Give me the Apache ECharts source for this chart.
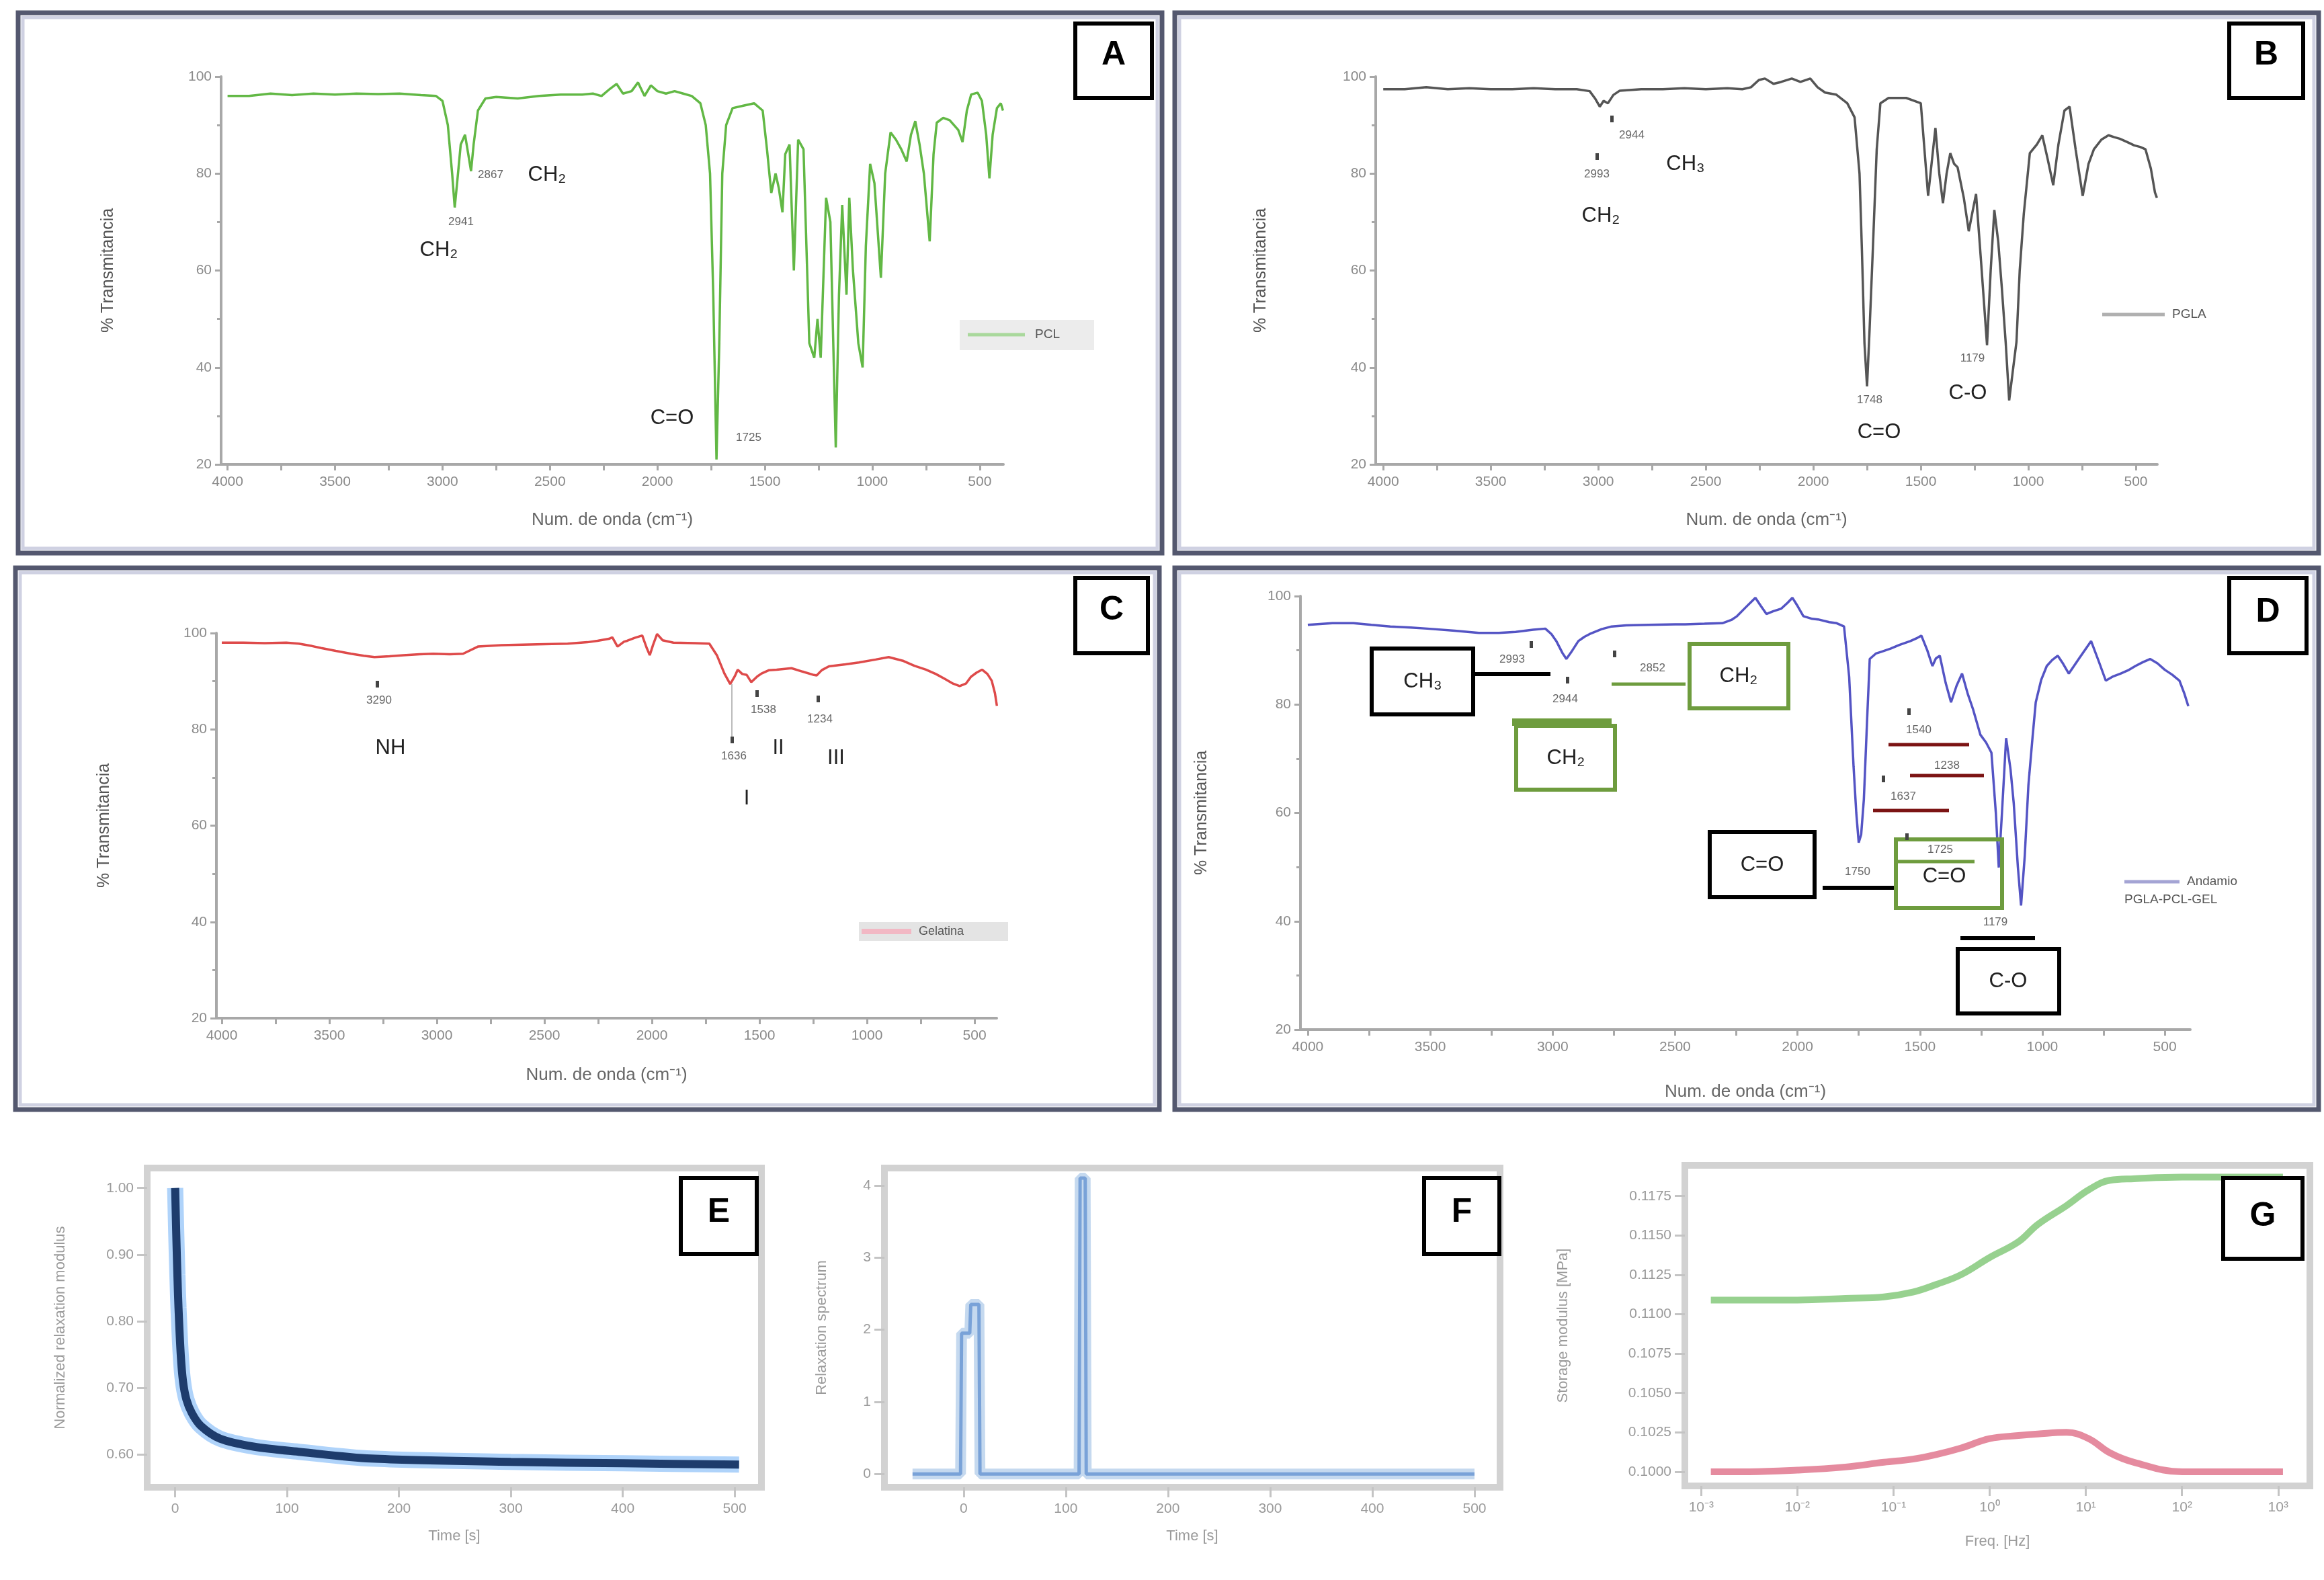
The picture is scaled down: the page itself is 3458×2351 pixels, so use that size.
<!DOCTYPE html>
<html>
<head>
<meta charset="utf-8">
<title>FTIR y reologia</title>
<script src="https://cdn.jsdelivr.net/npm/echarts@6.0.0/dist/echarts.min.js"></script>
<style>
html, body { margin: 0; padding: 0; background: #fff; }
#main { width: 3458px; height: 2351px; }
</style>
</head>
<body>
<div id="main"></div>
<script>
// ---- FTIR: PCL (A)
var pclWave = [4000,3900,3800,3700,3600,3500,3400,3300,3200,3100,3030,3000,2975,2955,2943,2932,2915,2895,2880,2867,2855,2835,2800,2750,2650,2550,2450,2350,2300,2260,2220,2190,2160,2120,2090,2060,2030,2000,1960,1920,1880,1840,1800,1775,1755,1740,1725,1712,1698,1680,1650,1600,1550,1510,1490,1470,1450,1435,1418,1405,1385,1365,1345,1320,1293,1270,1255,1240,1215,1195,1170,1155,1140,1120,1107,1090,1065,1045,1030,1010,990,960,940,915,890,865,840,820,800,780,760,733,715,700,670,640,600,580,560,540,510,490,470,455,440,420,402,392];
var pclTrans = [96.0,96.0,96.5,96.2,96.5,96.3,96.5,96.4,96.5,96.2,96.0,95.0,90.0,80.0,73.0,78.0,86.0,88.0,84.0,80.5,86.0,93.0,95.5,95.8,95.5,96.0,96.3,96.3,96.5,96.0,97.5,98.5,96.5,97.0,98.8,96.0,98.2,97.0,96.5,97.0,96.5,96.0,94.5,90.0,80.0,55.0,21.0,45.0,80.0,90.0,93.5,94.0,94.5,93.0,85.0,76.0,80.0,77.0,72.0,84.0,86.0,60.0,87.0,85.0,45.0,42.0,50.0,42.0,75.0,70.0,23.5,55.0,73.5,55.0,75.0,60.0,45.0,40.0,65.0,82.0,78.0,58.5,80.0,88.5,87.0,85.0,82.5,88.0,90.8,86.0,80.0,66.0,84.0,90.5,91.5,91.0,89.0,86.5,93.0,96.3,96.7,95.0,88.0,79.0,88.0,93.5,94.5,93.0];

// ---- FTIR: PGLA (B)
var pglaWave = [4000,3900,3800,3700,3600,3500,3400,3300,3200,3100,3040,3015,2993,2975,2955,2930,2900,2800,2700,2600,2500,2400,2330,2290,2253,2225,2185,2150,2100,2060,2014,1980,1945,1894,1842,1808,1785,1774,1762,1750,1738,1723,1705,1688,1650,1620,1568,1530,1500,1466,1450,1432,1414,1397,1380,1363,1345,1329,1300,1277,1260,1243,1220,1192,1175,1158,1140,1123,1105,1089,1070,1055,1040,1021,993,960,935,910,884,860,832,808,780,747,720,695,660,627,600,575,540,507,480,455,430,411,402];
var pglaTrans = [97.4,97.4,97.8,97.4,97.6,97.4,97.4,97.6,97.4,97.4,97.0,95.5,93.8,95.0,94.5,96.2,97.1,97.4,97.4,97.6,97.4,97.6,97.4,97.8,99.3,99.6,98.5,98.9,99.6,98.9,99.6,97.8,96.7,96.3,94.5,91.6,80.0,64.4,45.0,36.1,48.0,64.4,85.0,94.5,95.6,95.6,95.6,95.0,94.5,75.4,82.0,89.4,80.0,73.9,80.0,84.2,82.0,81.3,75.0,68.1,72.0,75.8,62.0,44.6,60.0,72.5,66.0,56.3,45.0,33.2,40.0,45.3,60.0,71.7,84.2,86.0,87.9,83.0,77.6,86.0,93.0,93.8,85.0,75.4,82.0,85.0,87.0,87.9,87.5,87.2,86.5,85.8,85.5,85.0,81.0,76.1,75.0];

// ---- FTIR: Gelatina (C)
var gelWave = [4000,3900,3800,3700,3642,3580,3538,3470,3399,3340,3290,3220,3156,3080,3017,2940,2878,2809,2700,2601,2500,2392,2300,2253,2200,2184,2160,2130,2115,2080,2045,2025,2010,1995,1976,1950,1900,1800,1733,1698,1663,1636,1615,1601,1580,1559,1538,1510,1490,1455,1420,1351,1300,1247,1234,1210,1177,1100,1038,960,899,830,780,726,680,639,600,569,540,517,490,465,440,420,405,396];
var gelTrans = [98.0,98.0,97.9,98.0,97.8,97.3,96.9,96.3,95.7,95.3,95.0,95.2,95.4,95.6,95.7,95.6,95.7,97.2,97.5,97.6,97.7,97.8,98.1,98.4,98.8,99.1,97.2,98.2,98.4,99.0,99.5,97.0,95.4,97.5,99.8,98.5,98.0,97.9,97.8,95.4,91.6,89.4,91.0,92.4,91.5,91.3,89.8,91.0,91.6,92.3,92.4,92.7,92.0,91.3,91.2,92.3,93.1,93.5,93.9,94.5,95.0,94.2,93.2,92.4,91.5,90.5,89.5,89.0,89.5,90.9,91.8,92.4,91.5,90.1,87.5,84.9];

// ---- FTIR: Andamio PGLA-PCL-GEL (D)
var scafWave = [4000,3900,3813,3740,3663,3580,3512,3400,3301,3220,3151,3080,3030,3005,2985,2960,2944,2925,2895,2870,2849,2800,2759,2700,2608,2500,2458,2380,2307,2270,2247,2210,2172,2150,2127,2100,2066,2040,2021,2000,1976,1940,1916,1870,1840,1810,1789,1771,1760,1750,1740,1729,1715,1705,1680,1660,1620,1584,1539,1510,1494,1470,1449,1435,1419,1395,1373,1350,1328,1305,1283,1253,1230,1208,1190,1178,1165,1148,1130,1117,1100,1087,1072,1057,1040,1027,1005,982,960,937,915,892,850,801,770,741,710,681,650,620,590,560,530,500,470,440,420,404];
var scafTrans = [94.7,95.0,95.0,94.7,94.4,94.2,94.0,93.6,93.2,93.2,93.4,93.8,94.0,93.0,91.7,89.5,88.4,89.6,91.7,92.5,93.0,93.9,94.4,94.6,94.7,94.8,94.8,94.9,95.0,95.6,96.3,98.0,99.7,98.2,96.7,97.2,97.7,98.8,99.7,98.2,96.3,95.8,95.7,95.2,95.0,94.4,85.1,68.5,60.0,54.5,56.0,62.5,78.0,88.4,89.4,89.7,90.3,91.0,91.7,92.3,92.7,90.0,87.1,88.5,89.0,84.0,80.4,83.5,85.7,82.0,79.1,74.4,73.0,71.1,60.0,49.9,60.0,73.8,68.0,61.8,50.0,42.9,52.0,65.1,74.0,80.4,84.5,87.1,88.2,89.0,87.5,85.7,88.5,91.7,88.0,84.4,85.2,85.7,86.3,87.1,87.8,88.4,87.6,86.4,85.5,84.4,82.0,79.7];

// ---- E: relajacion normalizada
var relaxTime = [0,1,2,3,5,7,10,15,23,40,70,112,175,300,400,504];
var relaxModulus = [1.0,0.93,0.87,0.82,0.75,0.71,0.683,0.662,0.643,0.624,0.612,0.604,0.594,0.589,0.587,0.585];

// ---- F: espectro
var specTime = [-50,-3,-2,6,7,15,16,113,114,119,120,500];
var specValue = [0,0,1.95,1.95,2.35,2.35,0,0,4.1,4.1,0,0];

// ---- G: modulo vs frecuencia (exponente de 10)
var freqExp = [-2.9,-2.5,-2.0,-1.5,-1.1,-0.8,-0.55,-0.3,0.0,0.3,0.5,0.8,1.03,1.25,1.5,2.0,2.5,3.05];
var modGreen = [0.1109,0.1109,0.1109,0.1110,0.1111,0.1114,0.1119,0.1125,0.1136,0.1146,0.1157,0.1169,0.1179,0.1185,0.1186,0.1187,0.1187,0.1187];
var modRed = [0.1000,0.1000,0.1001,0.1003,0.1006,0.1008,0.1011,0.1015,0.1021,0.1023,0.1024,0.1025,0.1021,0.1012,0.1006,0.1000,0.1000,0.1000];

// ---- ticks
var irLabelValues = [500,1000,1500,2000,2500,3000,3500,4000];
var irTickValues = [500,750,1000,1250,1500,1750,2000,2250,2500,2750,3000,3250,3500,3750,4000];
var timeTicks = [0,100,200,300,400,500];
var relaxTicks = [0.6,0.7,0.8,0.9,1.0];
var specTicks = [0,1,2,3,4];
var freqTicks = [-3,-2,-1,0,1,2,3];
var modTicks = [0.1000,0.1025,0.1050,0.1075,0.1100,0.1125,0.1150,0.1175];

function zip(a, b) {
	var out = [];
	for (var i = 0; i < a.length; i++) { out.push([a[i], b[i]]); }
	return out;
}
var SUP = {'-':'⁻','0':'⁰','1':'¹','2':'²','3':'³'};
function pow10(v) {
	var s = String(v), r = '';
	for (var i = 0; i < s.length; i++) { r += SUP[s[i]] || s[i]; }
	return '10' + r;
}
function plain(v) { return String(v); }

var FONT = '"Liberation Sans Narrow", "Liberation Sans", Arial, sans-serif';
var AX = '#a8a8a8';

// ---- grids
var grids = [
	{left: 329, top: 114, width: 1164, height: 577},   // A
	{left: 2047, top: 114, width: 1163, height: 577},  // B
	{left: 322, top: 942, width: 1161, height: 573},   // C
	{left: 1935, top: 887, width: 1324, height: 645},  // D
	{left: 219, top: 1738, width: 914, height: 475, show: true, borderColor: '#d2d2d2', borderWidth: 10},   // E
	{left: 1316, top: 1738, width: 916, height: 475, show: true, borderColor: '#d2d2d2', borderWidth: 10},  // F
	{left: 2507, top: 1734, width: 930, height: 477, show: true, borderColor: '#d2d2d2', borderWidth: 10}   // G
];

function irX(gi, min, max, gap) {
	return {
		gridIndex: gi, type: 'value', inverse: true, min: min, max: max,
		name: 'Num. de onda (cm⁻¹)', nameLocation: 'middle', nameGap: gap,
		nameTextStyle: {fontSize: 26, color: '#666', fontFamily: FONT},
		axisLine: {show: true, onZero: false, lineStyle: {color: AX, width: 4}},
		axisTick: {show: true, customValues: irTickValues, length: 9, lineStyle: {color: AX, width: 3}},
		axisLabel: {customValues: irLabelValues, fontSize: 21, color: '#8a8a8a', margin: 16,
			fontFamily: FONT, formatter: plain},
		splitLine: {show: false}
	};
}
function irY(gi, gap) {
	return {
		gridIndex: gi, type: 'value', min: 20, max: 100, interval: 20,
		name: '% Transmitancia', nameLocation: 'middle', nameGap: gap,
		nameTextStyle: {fontSize: 25, color: '#555', fontFamily: FONT},
		axisLine: {show: true, onZero: false, lineStyle: {color: AX, width: 4}},
		axisTick: {show: true, length: 9, lineStyle: {color: AX, width: 3}},
		minorTick: {show: true, splitNumber: 2, length: 6, lineStyle: {color: AX, width: 3}},
		axisLabel: {fontSize: 21, color: '#8a8a8a', margin: 14, fontFamily: FONT},
		splitLine: {show: false}
	};
}
function plainAxis(gi, dim, min, max, ticks, fmt, name, gap) {
	return {
		gridIndex: gi, type: 'value', min: min, max: max,
		position: dim === 'x' ? 'bottom' : 'left',
		name: name, nameLocation: 'middle', nameGap: gap,
		nameTextStyle: {fontSize: 22, color: '#9a9a9a', fontFamily: FONT},
		axisLine: {show: false, onZero: false},
		axisTick: {show: true, customValues: ticks, length: 15, lineStyle: {color: '#c4c4c4', width: 3}},
		axisLabel: {customValues: ticks, fontSize: 21, color: '#9a9a9a', margin: dim === 'x' ? 22 : 20,
			fontFamily: FONT, formatter: fmt},
		splitLine: {show: false}
	};
}

var xAxes = [
	irX(0, 390, 4030, 70),
	irX(1, 400, 4035, 70),
	irX(2, 397, 4025, 72),
	irX(3, 396, 4030, 80),
	plainAxis(4, 'x', -25, 524, timeTicks, plain, 'Time [s]', 62),
	plainAxis(5, 'x', -77.5, 525, timeTicks, plain, 'Time [s]', 62),
	plainAxis(6, 'x', -3.17, 3.33, freqTicks, function (v) { return pow10(v); }, 'Freq. [Hz]', 72)
];
var yAxes = [
	irY(0, 155),
	irY(1, 158),
	irY(2, 154),
	irY(3, 134),
	plainAxis(4, 'y', 0.551, 1.030, relaxTicks, function (v) { return v.toFixed(2); }, 'Normalized relaxation modulus', 118),
	plainAxis(5, 'y', -0.185, 4.24, specTicks, plain, 'Relaxation spectrum', 82),
	plainAxis(6, 'y', 0.0991, 0.11945, modTicks, function (v) { return v.toFixed(4); }, 'Storage modulus [MPa]', 170)
];

function ln(gi, data, color, width, smooth, z) {
	return {
		type: 'line', xAxisIndex: gi, yAxisIndex: gi, data: data, showSymbol: false,
		smooth: smooth || false, lineStyle: {color: color, width: width}, z: z || 2, silent: true
	};
}

var series = [
	ln(0, zip(pclWave, pclTrans), '#62b845', 3.5),
	ln(1, zip(pglaWave, pglaTrans), '#555555', 3.5),
	ln(2, zip(gelWave, gelTrans), '#de4a4a', 3.5),
	ln(3, zip(scafWave, scafTrans), '#5454c4', 3.5),
	ln(4, zip(relaxTime, relaxModulus), 'rgba(110,175,245,0.55)', 24, 0.3, 2),
	ln(4, zip(relaxTime, relaxModulus), '#1e3c6c', 12, 0.3, 3),
	ln(5, zip(specTime, specValue), 'rgba(150,185,225,0.55)', 16, false, 2),
	ln(5, zip(specTime, specValue), 'rgba(70,125,200,0.6)', 5, false, 3),
	ln(6, zip(freqExp, modGreen), 'rgba(125,198,115,0.8)', 10, 0.4),
	ln(6, zip(freqExp, modRed), 'rgba(222,110,135,0.8)', 10, 0.4)
];

// ---- graphic helpers (frames, panel letters, annotations)
var g = [];
function rectG(x, y, w, h, stroke, lw, fill, z) {
	g.push({type: 'rect', shape: {x: x, y: y, width: w, height: h}, z: z || 10,
		style: {fill: fill || 'none', stroke: stroke, lineWidth: lw}, silent: true});
}
function lineG(x1, y1, x2, y2, color, w) {
	g.push({type: 'line', shape: {x1: x1, y1: y1, x2: x2, y2: y2}, z: 10,
		style: {stroke: color, lineWidth: w}, silent: true});
}
function textG(x, y, s, size, color, weight, align) {
	g.push({type: 'text', x: x, y: y, z: 12, silent: true,
		style: {text: s, fontSize: size, fill: color, fontWeight: weight || 'normal',
			align: align || 'center', verticalAlign: 'middle', fontFamily: FONT}});
}
function dotG(x, y) { rectG(x - 2, y - 5, 5, 10, 'none', 0, '#444', 11); }
function letterBox(x, y, w, h, s, ty) {
	rectG(x, y, w, h, '#000', 6, '#fff', 9);
	textG(x + w / 2, ty, s, 50, '#000', 'bold');
}

// panel frames A-D
var frames = [[27, 19, 1702, 804], [1748, 19, 1702, 804], [23, 845, 1702, 806], [1748, 845, 1702, 806]];
frames.forEach(function (f) {
	rectG(f[0], f[1], f[2], f[3], '#54586f', 7, 'none', 8);
	rectG(f[0] + 7, f[1] + 7, f[2] - 14, f[3] - 14, '#cfd1e2', 5, 'none', 8);
});

letterBox(1600, 35, 114, 111, 'A', 82);
letterBox(3317, 35, 110, 111, 'B', 82);
letterBox(1600, 860, 108, 112, 'C', 908);
letterBox(3317, 860, 115, 112, 'D', 911);
letterBox(1013, 1753, 113, 113, 'E', 1804);
letterBox(2119, 1753, 112, 113, 'F', 1804);
letterBox(3308, 1753, 118, 120, 'G', 1810);

var SMALL = 17, BIG = 31, NUM = '#666', LAB = '#222';

// A: PCL
textG(730, 260, '2867', SMALL, NUM);
textG(814, 260, 'CH₂', BIG, LAB);
textG(686, 330, '2941', SMALL, NUM);
textG(653, 372, 'CH₂', BIG, LAB);
textG(1000, 622, 'C=O', BIG, LAB);
textG(1114, 651, '1725', SMALL, NUM);
rectG(1428, 476, 200, 45, 'none', 0, '#ececec', 9);
lineG(1440, 498, 1525, 498, '#a9d89c', 5);
textG(1540, 498, 'PCL', 19, '#555', 'normal', 'left');

// B: PGLA
dotG(2398, 177);
textG(2428, 201, '2944', SMALL, NUM);
dotG(2376, 233);
textG(2376, 259, '2993', SMALL, NUM);
textG(2508, 244, 'CH₃', BIG, LAB);
textG(2382, 321, 'CH₂', BIG, LAB);
textG(2782, 595, '1748', SMALL, NUM);
textG(2796, 643, 'C=O', BIG, LAB);
textG(2935, 533, '1179', SMALL, NUM);
textG(2928, 585, 'C-O', BIG, LAB);
lineG(3128, 468, 3221, 468, '#b0b0b0', 5);
textG(3232, 468, 'PGLA', 19, '#555', 'normal', 'left');

// C: Gelatina
dotG(561, 1018);
textG(564, 1042, '3290', SMALL, NUM);
textG(581, 1113, 'NH', BIG, LAB);
lineG(1089, 1018, 1089, 1096, '#bbb', 2);
dotG(1089, 1101);
textG(1092, 1125, '1636', SMALL, NUM);
dotG(1126, 1032);
textG(1136, 1056, '1538', SMALL, NUM);
dotG(1217, 1040);
textG(1220, 1070, '1234', SMALL, NUM);
textG(1111, 1188, 'I', BIG, LAB);
textG(1158, 1113, 'II', BIG, LAB);
textG(1244, 1128, 'III', BIG, LAB);
rectG(1278, 1372, 222, 28, 'none', 0, '#e4e4e4', 9);
lineG(1282, 1386, 1356, 1386, '#f2b8c4', 8);
textG(1367, 1386, 'Gelatina', 18, '#555', 'normal', 'left');

// D: Andamio
var GREEN = '#6e9c3e', RED = '#7c1414';
rectG(2041, 965, 151, 98, '#000', 6, '#fff');
textG(2117, 1014, 'CH₃', BIG, LAB);
lineG(2195, 1003, 2307, 1003, '#000', 6);
dotG(2278, 959);
textG(2250, 981, '2993', SMALL, NUM);
dotG(2332, 1012);
textG(2329, 1040, '2944', SMALL, NUM);
dotG(2402, 973);
textG(2459, 994, '2852', SMALL, NUM);
lineG(2398, 1018, 2508, 1018, GREEN, 5);
rectG(2514, 958, 147, 96, GREEN, 6, '#fff');
textG(2587, 1006, 'CH₂', BIG, LAB);
rectG(2250, 1069, 148, 11, 'none', 0, GREEN);
rectG(2256, 1080, 147, 95, GREEN, 6, '#fff');
textG(2330, 1128, 'CH₂', BIG, LAB);
rectG(2544, 1238, 156, 97, '#000', 6, '#fff');
textG(2622, 1287, 'C=O', BIG, LAB);
lineG(2712, 1321, 2823, 1321, '#000', 6);
textG(2764, 1297, '1750', SMALL, NUM);
rectG(2821, 1249, 158, 102, GREEN, 6, 'none');
lineG(2821, 1282, 2938, 1282, GREEN, 5);
dotG(2837, 1245);
textG(2887, 1264, '1725', SMALL, NUM);
textG(2893, 1304, 'C=O', BIG, LAB);
lineG(2810, 1108, 2930, 1108, RED, 5);
dotG(2840, 1059);
textG(2855, 1086, '1540', SMALL, NUM);
lineG(2842, 1154, 2952, 1154, RED, 5);
textG(2897, 1139, '1238', SMALL, NUM);
lineG(2787, 1206, 2900, 1206, RED, 5);
dotG(2802, 1159);
textG(2832, 1185, '1637', SMALL, NUM);
textG(2969, 1372, '1179', SMALL, NUM);
lineG(2917, 1396, 3028, 1396, '#000', 6);
rectG(2913, 1412, 151, 96, '#000', 6, '#fff');
textG(2988, 1460, 'C-O', BIG, LAB);
lineG(3161, 1312, 3243, 1312, '#a4a4d4', 5);
textG(3254, 1312, 'Andamio', 19, '#555', 'normal', 'left');
textG(3161, 1339, 'PGLA-PCL-GEL', 19, '#555', 'normal', 'left');

var option = {
	animation: false,
	backgroundColor: '#ffffff',
	grid: grids,
	xAxis: xAxes,
	yAxis: yAxes,
	series: series,
	graphic: {elements: g}
};

var myChart = echarts.init(document.getElementById('main'));
myChart.setOption(option);
</script>
</body>
</html>
